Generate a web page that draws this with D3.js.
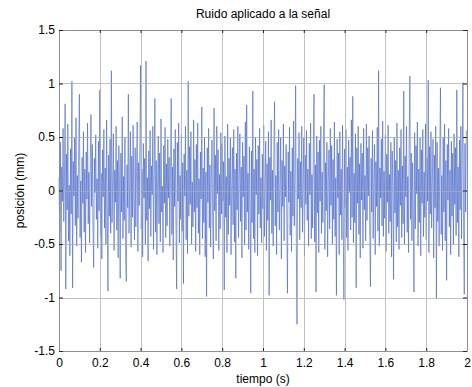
<!DOCTYPE html>
<html>
<head>
<meta charset="utf-8">
<script src="https://cdn.jsdelivr.net/npm/d3@7"></script>
<style>
  body { margin: 0; background: #fff; }
  svg { display: block; }
  text { font-family: "Liberation Sans", Arial, Helvetica, sans-serif; fill: #000; }
</style>
</head>
<body>
<svg id="chart" width="472" height="387"></svg>
<script>
// Frecuencia de muestreo (Hz): la muestra i corresponde a t = i / fs
const fs = 300;

// Ruido (mm), 600 muestras en 2 s
const ruido = [
  .12,-.38,.45,-.75,.22,-.1,.58,-.29,.07,.81,-.92,.34,-.18,.62,-.47,.05,-.61,.39,-.22,1.02,
  -.91,.27,-.05,.49,-.33,.68,-.52,.14,-.26,.41,.9,-.44,.09,-.67,.31,-.12,.55,-.39,.2,-.58,
  .36,-.08,.63,-.31,.17,-.49,.25,.71,-.15,.43,-.36,-.72,.3,-.02,.52,-.27,.11,-.54,.46,-.19,
  .94,-.42,.16,-.64,.38,-.06,.57,-.35,.21,-.5,.66,-.13,-.94,.33,-.24,.48,-.4,1.12,-.3,.08,
  .53,-.56,.19,-.11,.6,-.37,.28,-.63,.42,.03,-.82,.35,-.2,.69,-.45,.13,-.28,.5,-.6,-.85,
  .24,-.16,.9,-.4,.07,.55,-.53,.32,-.25,.61,-.09,-.46,.4,-.34,.18,.64,-.57,.26,-.14,.47,
  1.17,-.36,.2,-.62,.44,-.07,.3,-.5,1.21,-.28,.12,-.66,.37,-.17,.56,-.43,.23,-.04,.6,-.55,
  .15,.86,-.39,.28,-.6,.09,.51,-.31,.35,-.48,.67,-.2,.04,-.58,.42,-.12,.59,-.44,.25,-.33,
  .48,-.07,.31,-.52,.18,.86,-.41,.22,-.65,.39,-.15,.57,-.3,-.92,.45,-.1,.63,-.49,.14,-.27,
  .52,-.38,.26,-.87,.34,-.05,.6,-.46,.19,-.59,1.02,-.24,.41,-.13,.55,-.5,.08,-.34,.66,-.2,
  .29,-.57,.43,-.16,.63,-.4,.11,-.6,.36,-.08,.78,-.45,.21,-.3,.5,-.62,.17,-.99,.4,-.11,
  .58,-.35,.24,-.53,.09,.47,-.27,-.64,.77,-.19,.33,-.47,.6,-.03,.38,-.56,.15,-.36,.54,-.22,
  .44,-.1,.27,-.93,.51,-.25,.13,-.58,.62,-.41,.3,-.14,.49,-.6,.06,.4,-.32,.57,-.48,.2,
  -.82,.35,-.18,.6,-.44,.1,.53,-.29,.22,-.63,.45,-.06,.32,-.51,.64,-.37,.8,-.2,.16,-.55,
  .41,-.12,-.96,.37,-.3,.93,-.45,.2,-.58,.5,-.04,.29,-.61,.42,-.22,.58,-.35,.12,-.49,.34,
  -.17,.61,-.43,.08,.46,-.56,.25,-.28,.55,-.98,.31,-.09,.66,-.4,.19,-.52,.38,.83,-.33,.14,
  -.6,.45,-.2,.57,-.37,.02,.5,-.64,.28,-.15,.62,-.47,.23,-.06,.43,-.3,-.96,.36,-.11,.59,
  -.42,.18,-.57,.4,-.24,.65,-.33,.11,.98,-.5,-1.25,.3,-.08,.54,-.46,.27,-.16,.6,-.39,.07,
  .49,-.61,.33,-.13,.56,-.28,.2,-.52,.44,-.04,.63,-.45,.15,-.35,.39,.9,-.48,.24,-.95,.51,
  -.21,.36,-.58,.47,-.1,.6,-.4,.17,-.3,.53,.99,-.55,.26,-.19,.45,-.62,.09,.38,-.36,.58,
  -.14,.42,-.5,.29,-.27,.64,-.43,.12,-.98,.48,-.07,.35,-.6,.55,-.23,.2,-.46,.61,-.32,-1.02,
  .39,-.16,.57,-.44,.22,-.56,.47,-.02,.31,-.37,.66,-.25,.88,-.49,.16,-.3,.53,-.91,.4,-.12,
  .6,-.41,.25,-.63,.44,-.09,.35,-.54,.58,-.18,.14,-.47,.62,-.28,.4,-.05,.51,-.36,-.9,.3,
  -.2,.56,-.45,.1,.43,-.6,.27,-.15,.59,-.38,1.12,-.52,.21,-.07,.48,-.33,.65,-.43,.18,-.26,
  .52,-.57,.34,-.11,.61,-.4,.15,-.29,.45,-.62,.37,.04,-.83,.5,-.21,.28,-.48,.63,-.34,.19,
  -.55,.4,-.14,.57,-.44,.23,-.31,.93,-.5,.32,-.06,.6,-.39,.13,-.58,.46,1.07,-.27,.35,-.47,
  .26,-.18,-.95,.54,-.36,.42,-.03,.64,-.52,.2,-.3,.49,-.61,.38,-.12,.57,-.43,.17,-.25,.62,
  -.46,.3,-.1,1.03,-.58,.41,-.22,.55,-.35,.09,.48,-.63,.33,-.16,.6,-1.01,.45,-.29,.21,-.52,
  .37,.96,-.41,.14,-.56,.5,-.2,.62,-.47,.28,-.84,.43,-.09,.58,-.34,.19,-.6,.46,-.24,.35,
  -.5,.53,-.13,.4,-.42,.94,-.3,.22,-.62,.47,-.18,.6,-.45,.31,1.01,-.37,-.97,.44,-.2,.56
];

const xTicks = [0, 0.2, 0.4, 0.6, 0.8, 1, 1.2, 1.4, 1.6, 1.8, 2];
const yTicks = [-1.5, -1, -0.5, 0, 0.5, 1, 1.5];

const titulo = "Ruido aplicado a la señal";
const etiquetaX = "tiempo (s)";
const etiquetaY = "posición (mm)";

const svg = d3.select("#chart");
const plot = { left: 59, right: 467, top: 30, bottom: 351 };

const x = d3.scaleLinear().domain([0, 2]).range([plot.left, plot.right]);
const y = d3.scaleLinear().domain([-1.5, 1.5]).range([plot.bottom, plot.top]);

// Señal
svg.append("path")
  .datum(ruido)
  .attr("fill", "none")
  .attr("stroke", "#3f5fc4")
  .attr("stroke-width", 0.6)
  .attr("stroke-linejoin", "round")
  .attr("d", d3.line().x((d, i) => x(i / fs)).y(d => y(d)));

// Rejilla
const grid = svg.append("g").attr("stroke", "#a9aeb3").attr("stroke-width", 1).attr("opacity", 0.75);
grid.selectAll(".gx").data(xTicks.slice(1, -1)).join("line")
  .attr("x1", d => Math.round(x(d)) + 0.5).attr("x2", d => Math.round(x(d)) + 0.5)
  .attr("y1", plot.top).attr("y2", plot.bottom);
grid.selectAll(".gy").data(yTicks.slice(1, -1)).join("line")
  .attr("y1", d => Math.round(y(d)) + 0.5).attr("y2", d => Math.round(y(d)) + 0.5)
  .attr("x1", plot.left).attr("x2", plot.right);

// Ejes (marcas hacia dentro)
const fmt = d => String(d);
function styleAxis(g) {
  g.select(".domain").attr("stroke", "#8c9094");
  g.selectAll(".tick line").attr("stroke", "#222");
  g.selectAll(".tick text").style("font-size", "12px").attr("fill", "#000");
}

svg.append("g")
  .attr("transform", `translate(0,${plot.bottom})`)
  .call(d3.axisBottom(x).tickValues(xTicks).tickFormat(fmt).tickSize(-3).tickSizeOuter(0).tickPadding(7))
  .call(styleAxis);

svg.append("g")
  .attr("transform", `translate(0,${plot.top})`)
  .call(d3.axisTop(x).tickValues(xTicks).tickFormat("").tickSize(-3).tickSizeOuter(0))
  .call(styleAxis);

svg.append("g")
  .attr("transform", `translate(${plot.left},0)`)
  .call(d3.axisLeft(y).tickValues(yTicks).tickFormat(fmt).tickSize(-4).tickSizeOuter(0).tickPadding(4))
  .call(styleAxis);

svg.append("g")
  .attr("transform", `translate(${plot.right},0)`)
  .call(d3.axisRight(y).tickValues(yTicks).tickFormat("").tickSize(-4).tickSizeOuter(0))
  .call(styleAxis);

// Título y etiquetas
svg.append("text")
  .attr("x", (plot.left + plot.right) / 2).attr("y", 18)
  .attr("text-anchor", "middle").style("font-size", "12px")
  .text(titulo);

svg.append("text")
  .attr("x", (plot.left + plot.right) / 2).attr("y", 383)
  .attr("text-anchor", "middle").style("font-size", "12px")
  .text(etiquetaX);

svg.append("text")
  .attr("transform", `translate(24,${(plot.top + plot.bottom) / 2}) rotate(-90)`)
  .attr("text-anchor", "middle").style("font-size", "12px")
  .text(etiquetaY);
</script>
</body>
</html>
